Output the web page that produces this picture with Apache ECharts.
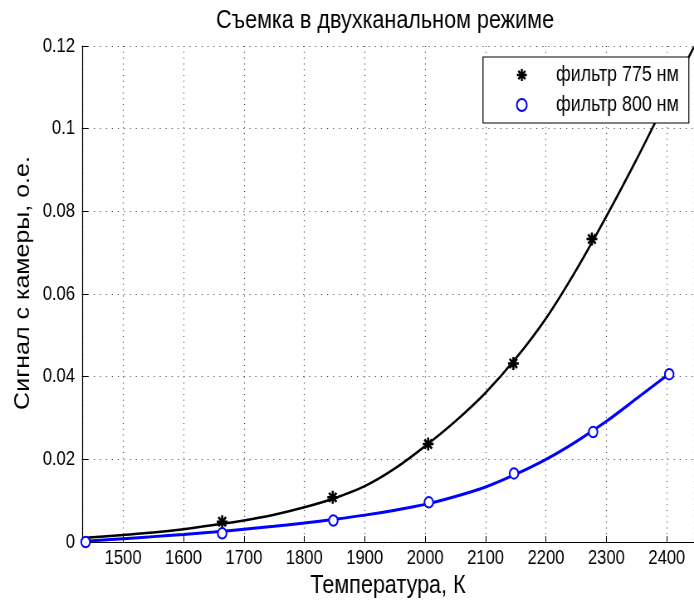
<!DOCTYPE html>
<html>
<head>
<meta charset="utf-8">
<script src="https://cdn.jsdelivr.net/npm/echarts@6/dist/echarts.min.js"></script>
<style>
  html, body { margin: 0; padding: 0; background: #fff; overflow: hidden; }
  #frame { width: 694px; height: 604px; overflow: hidden; }
  /* the figure is laid out wider and squeezed horizontally, giving the tall, narrow lettering */
  #chart { width: 836px; height: 604px; transform: scaleX(0.830144); transform-origin: 0 0; }
</style>
</head>
<body>
<div id="frame"><div id="chart"></div></div>
<script>
// Measured points, filter 775 nm
const temp775 = [1664, 1847, 2005, 2146, 2276];
const signal775 = [0.0049, 0.0108, 0.0237, 0.0432, 0.0733];

// Measured points, filter 800 nm
const temp800 = [1438, 1664, 1848, 2006, 2147, 2278, 2404];
const signal800 = [0.0000, 0.0021, 0.0052, 0.0096, 0.0166, 0.0266, 0.0406];

// Fitted curves
const fitTemp775 = [1438, 1500, 1550, 1600, 1650, 1700, 1750, 1800, 1850, 1900, 1950, 2000, 2050, 2100, 2150, 2200, 2250, 2300, 2350, 2400, 2445];
const fitSignal775 = [0.0010, 0.0017, 0.0023, 0.0031, 0.0041, 0.0052, 0.0066, 0.0084, 0.0106, 0.0135, 0.0178, 0.0232, 0.0292, 0.0361, 0.0444, 0.0541, 0.0658, 0.0788, 0.0926, 0.1071, 0.1198];
const fitTemp800 = [1438, 1500, 1550, 1600, 1650, 1700, 1750, 1800, 1850, 1900, 1950, 2000, 2050, 2100, 2150, 2200, 2250, 2300, 2350, 2404];
const fitSignal800 = [0.0002, 0.0008, 0.0013, 0.0018, 0.0024, 0.0031, 0.0038, 0.0046, 0.0055, 0.0065, 0.0077, 0.0091, 0.0110, 0.0133, 0.0164, 0.0200, 0.0243, 0.0292, 0.0347, 0.0407];

const titleText = 'Съемка в двухканальном режиме';
const xName = 'Температура, К';
const yName = 'Сигнал с камеры, о.е.';
const name775 = 'фильтр 775 нм';
const name800 = 'фильтр 800 нм';

const FONT = "'Liberation Sans', Arial, sans-serif";
const SX = 694 / 836;           // horizontal squeeze applied to the chart box
const px = v => v / SX;          // screen x distance -> chart x distance

const STAR = 'path://M4,0 L6,0 L6,10 L4,10 Z M0,4 L10,4 L10,6 L0,6 Z M2.21,0.79 L9.21,7.79 L7.79,9.21 L0.79,2.21 Z M7.79,0.79 L9.21,2.21 L2.21,9.21 L0.79,7.79 Z';

const zip = (xs, ys) => xs.map((x, i) => [x, ys[i]]);

const chart = echarts.init(document.getElementById('chart'), null, { renderer: 'canvas' });

chart.setOption({
  animation: false,
  backgroundColor: '#fff',
  title: {
    text: titleText,
    left: px(385),
    top: 8,
    textAlign: 'center',
    padding: 0,
    textStyle: { fontFamily: FONT, fontSize: 26, fontWeight: 'normal', color: '#000' }
  },
  grid: { left: px(82), right: 0, top: 46, bottom: 56 },
  xAxis: {
    type: 'value',
    min: 1432,
    max: 2445,
    splitNumber: 10,
    name: xName,
    nameLocation: 'middle',
    nameGap: 31,
    nameTextStyle: { fontFamily: FONT, fontSize: 26, color: '#000' },
    axisLine: { lineStyle: { color: '#000', width: 1 } },
    axisTick: { inside: true, length: 6, lineStyle: { color: '#000' } },
    axisLabel: {
      fontFamily: FONT, fontSize: 20, color: '#000', margin: 6,
      showMinLabel: false, showMaxLabel: false,
      formatter: v => String(v)
    },
    splitLine: { show: true, lineStyle: { color: '#444', width: 1.2, type: [1, 4.8] } }
  },
  yAxis: {
    type: 'value',
    min: 0,
    max: 0.12,
    interval: 0.02,
    name: yName,
    nameLocation: 'middle',
    nameGap: 58,
    nameTextStyle: { fontFamily: FONT, fontSize: 25, color: '#000', padding: [0, 0, 0, 22] },
    axisLine: { show: true, lineStyle: { color: '#000', width: 1.2 } },
    axisTick: { show: true, inside: true, length: px(6), lineStyle: { color: '#000' } },
    axisLabel: { fontFamily: FONT, fontSize: 20, color: '#000', margin: px(7) },
    splitLine: { show: true, lineStyle: { color: '#444', width: 1, type: [1.2, 6] } }
  },
  legend: {
    orient: 'vertical',
    left: px(483),
    top: 57,
    padding: [7, 12, 7, px(33)],
    itemGap: 8,
    itemWidth: px(60),
    itemHeight: 12,
    backgroundColor: '#fff',
    borderColor: '#000',
    borderWidth: 1.2,
    borderRadius: 0,
    textStyle: { fontFamily: FONT, fontSize: 21.5, color: '#000', lineHeight: 20 },
    data: [name775, name800]
  },
  series: [
    {
      name: 'fit775',
      type: 'line',
      data: zip(fitTemp775, fitSignal775),
      smooth: 0.3,
      showSymbol: false,
      lineStyle: { color: '#000', width: 2.5 },
      itemStyle: { color: '#000' },
      z: 2
    },
    {
      name: name775,
      type: 'scatter',
      data: zip(temp775, signal775),
      symbol: STAR,
      symbolSize: [13, 13],
      itemStyle: { color: '#000', opacity: 1 },
      z: 3
    },
    {
      name: 'fit800',
      type: 'line',
      data: zip(fitTemp800, fitSignal800),
      smooth: 0.3,
      showSymbol: false,
      lineStyle: { color: '#0000ff', width: 3 },
      itemStyle: { color: '#0000ff' },
      z: 4
    },
    {
      name: name800,
      type: 'scatter',
      data: zip(temp800, signal800),
      symbol: 'emptyCircle',
      symbolSize: 10.5,
      itemStyle: { color: '#0000ff', borderColor: '#0000ff', borderWidth: 2.4, opacity: 1 },
      z: 5
    }
  ]
});
</script>
</body>
</html>
